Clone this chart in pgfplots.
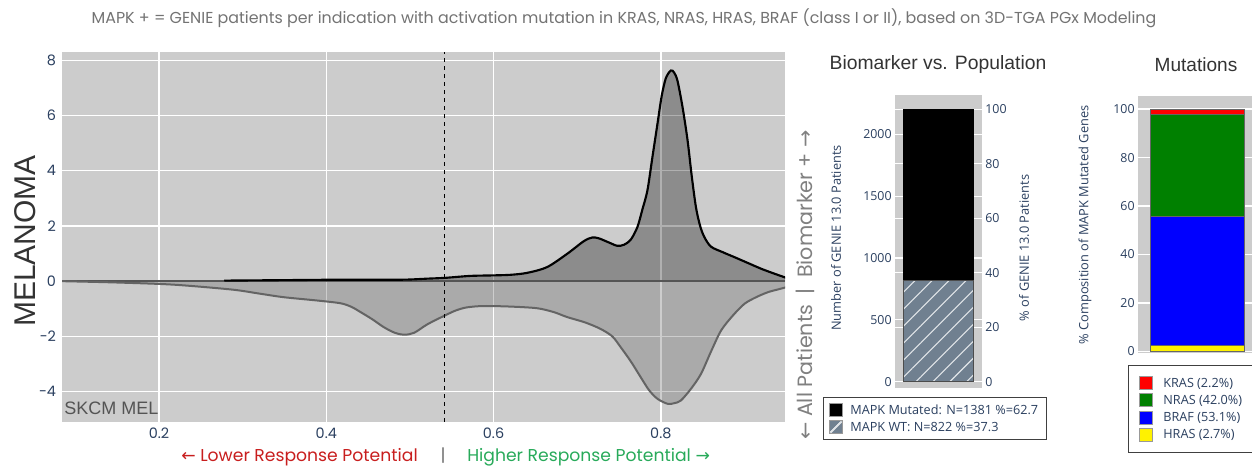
\documentclass[border=0pt]{standalone}
\usepackage{pgfplots}
\usepackage{pgfplotstable}
\pgfplotsset{compat=1.18}
\usetikzlibrary{patterns.meta}
\usepackage{fontspec}
\setmainfont{Open Sans}
\newfontfamily\pop{Poppins}
\newfontfamily\lib{Liberation Sans}
\newfontfamily\dv{DejaVu Sans}
\definecolor{bgc}{RGB}{204,204,204}
\definecolor{tickc}{RGB}{42,63,95}
\definecolor{slate}{RGB}{112,128,144}
\definecolor{lowc}{RGB}{100,100,100}
\definecolor{zeroc}{RGB}{85,85,85}
\definecolor{redt}{RGB}{200,30,30}
\definecolor{greent}{RGB}{40,170,90}
\definecolor{titc}{RGB}{115,115,115}
\definecolor{grn}{RGB}{0,128,0}

\pgfplotstableread{
x y
0.278 0.02
0.32 0.03
0.36 0.04
0.40 0.05
0.44 0.05
0.48 0.05
0.50 0.06
0.52 0.09
0.542 0.12
0.572 0.19
0.60 0.21
0.62 0.23
0.64 0.30
0.664 0.51
0.688 0.99
0.708 1.45
0.718 1.58
0.726 1.55
0.738 1.40
0.748 1.28
0.756 1.32
0.764 1.50
0.772 1.96
0.778 2.60
0.784 3.29
0.790 4.50
0.796 5.70
0.801 6.70
0.806 7.35
0.812 7.63
0.816 7.55
0.820 7.25
0.826 6.30
0.832 5.10
0.837 3.80
0.842 2.68
0.847 2.00
0.852 1.60
0.860 1.25
0.874 1.05
0.888 0.87
0.904 0.66
0.920 0.45
0.935 0.28
0.950 0.12
}\updata

\pgfplotstableread{
x y
0.084 0
0.14 -0.04
0.20 -0.10
0.233 -0.16
0.289 -0.31
0.32 -0.45
0.349 -0.58
0.389 -0.70
0.417 -0.80
0.43 -0.93
0.441 -1.12
0.455 -1.38
0.469 -1.67
0.482 -1.87
0.493 -1.94
0.505 -1.87
0.521 -1.56
0.542 -1.24
0.555 -1.06
0.568 -0.95
0.588 -0.90
0.62 -0.92
0.652 -0.98
0.672 -1.12
0.688 -1.30
0.71 -1.50
0.728 -1.73
0.742 -2.00
0.752 -2.39
0.764 -2.90
0.776 -3.48
0.786 -3.95
0.796 -4.26
0.808 -4.44
0.816 -4.42
0.824 -4.32
0.836 -3.90
0.848 -3.36
0.860 -2.55
0.872 -1.79
0.886 -1.25
0.900 -0.82
0.914 -0.58
0.928 -0.40
0.940 -0.30
0.950 -0.22
}\lodata

\begin{document}
\begin{tikzpicture}

% ---------------- main density axis
\begin{axis}[
 at={(46.5pt,33pt)}, anchor=south west, scale only axis,
 width=542.25pt, height=277.5pt,
 xmin=0.084, xmax=0.9485, ymin=-5.1, ymax=8.3,
 axis background/.style={fill=bgc},
 axis line style={draw=none}, major tick length=0pt,
 xtick={0.2,0.4,0.6,0.8}, xticklabels={0.2,0.4,0.6,0.8},
 ytick={-4,-2,0,2,4,6,8}, yticklabels={−4,−2,0,2,4,6,8},
 grid=major, grid style={white, line width=1.1pt},
 ticklabel style={font=\pop\fontsize{10.8pt}{12pt}\selectfont, text=tickc},
 yticklabel style={xshift=-1pt},
 xticklabel style={yshift=-1pt},
]
\addplot[fill=black, fill opacity=0.31, draw=none, smooth, tension=0.5] table {\updata} \closedcycle;
\addplot[fill=lowc, fill opacity=0.32, draw=none, smooth, tension=0.5] table {\lodata} \closedcycle;
\addplot[zeroc, line width=1.4pt] coordinates {(0.084,0) (0.9485,0)};
\addplot[lowc, smooth, tension=0.5, line width=1.5pt] table {\lodata};
\addplot[black, smooth, tension=0.5, line width=1.6pt] table {\updata};
\addplot[black, dashed, line width=0.5pt] coordinates {(0.541,-5.1) (0.541,8.3)};
\end{axis}

% ---------------- Biomarker vs population (left axis)
\begin{axis}[
 at={(671.25pt,58.5pt)}, anchor=south west, scale only axis,
 width=65.25pt, height=219.75pt,
 ybar stacked, bar width=0.805,
 xmin=-0.5, xmax=0.5, ymin=-51, ymax=2318,
 xtick=\empty,
 ytick={0,500,1000,1500,2000},
 extra y ticks={440.6,881.2,1321.8,1762.4,2203},
 extra y tick labels={},
 extra y tick style={grid=major},
 ymajorgrids, grid style={white, line width=0.9pt},
 axis background/.style={fill=bgc},
 axis line style={draw=none}, major tick length=0pt,
 /pgf/number format/1000 sep={},
 /pgf/number format/assume math mode=true,
 ticklabel style={font=\fontsize{9.3pt}{11pt}\selectfont, text=tickc},
 yticklabel style={xshift=1pt},
 legend style={at={(-0.828,-0.031)}, anchor=north west, draw=black!75, line width=0.8pt,
   fill=white, font=\fontsize{9.5pt}{11pt}\selectfont, text=tickc,
   nodes={inner ysep=1.2pt}, row sep=1.8pt, column sep=4pt,
   inner xsep=4pt, inner ysep=4pt, cells={anchor=west}},
 reverse legend,
]
\addplot[fill=slate, draw=black!70, line width=0.6pt,
  postaction={pattern={Lines[angle=45,distance=9pt,line width=0.8pt]}, pattern color=white!80!slate},
  legend image code/.code={\draw[fill=slate, draw=black!40, line width=0.4pt] (0pt,-4.5pt) rectangle (9.75pt,5.25pt); \draw[white!80!slate, line width=0.6pt] (1pt,-3.5pt) -- (8.75pt,4.25pt);}]
  coordinates {(0,822)};
\addlegendentry{MAPK WT: N=822 \%=37.3}
\addplot[fill=black, draw=black, line width=0.6pt,
  legend image code/.code={\draw[fill=black, draw=black!40, line width=0.4pt] (0pt,-4.5pt) rectangle (9.75pt,5.25pt);}]
  coordinates {(0,1381)};
\addlegendentry{MAPK Mutated: N=1381 \%=62.7}
\end{axis}

% ---------------- Biomarker vs population (right axis)
\begin{axis}[
 at={(671.25pt,58.5pt)}, anchor=south west, scale only axis,
 width=65.25pt, height=219.75pt,
 xmin=-0.5, xmax=0.5, ymin=-2.315, ymax=105.22,
 hide x axis, axis y line*=right,
 ytick={0,20,40,60,80,100},
 axis line style={draw=none}, major tick length=0pt,
 /pgf/number format/assume math mode=true,
 ticklabel style={font=\fontsize{9.3pt}{11pt}\selectfont, text=tickc},
 yticklabel style={xshift=-1pt},
]
\addplot[draw=none] coordinates {(0,0)};
\end{axis}

% ---------------- Mutations
\begin{axis}[
 at={(853.5pt,84.75pt)}, anchor=south west, scale only axis,
 width=88.5pt, height=192.75pt,
 ybar stacked, bar width=0.797,
 xmin=-0.5, xmax=0.5, ymin=-0.6, ymax=105.4,
 xtick=\empty,
 ytick={0,20,40,60,80,100},
 ymajorgrids, grid style={white, line width=0.9pt},
 axis background/.style={fill=bgc},
 axis line style={draw=none}, major tick length=0pt,
 /pgf/number format/assume math mode=true,
 ticklabel style={font=\fontsize{9.3pt}{11pt}\selectfont, text=tickc},
 yticklabel style={xshift=1pt},
 legend style={at={(-0.085,-0.047)}, anchor=north west, draw=black!75, line width=0.8pt,
   fill=white, font=\fontsize{9.5pt}{11pt}\selectfont, text=tickc,
   nodes={inner ysep=1.2pt}, row sep=2pt, column sep=6pt,
   inner xsep=8pt, inner ysep=8pt, cells={anchor=west}},
 reverse legend,
 legend image code/.code={\draw[#1, draw=black!40, line width=0.4pt] (0pt,-4.5pt) rectangle (9.75pt,5.25pt);},
]
\addplot[fill=yellow, draw=black!60, line width=0.6pt] coordinates {(0,2.7)};
\addlegendentry{HRAS (2.7\%)}
\addplot[fill=blue, draw=black!60, line width=0.6pt] coordinates {(0,53.1)};
\addlegendentry{BRAF (53.1\%)}
\addplot[fill=grn, draw=black!60, line width=0.6pt] coordinates {(0,42.0)};
\addlegendentry{NRAS (42.0\%)}
\addplot[fill=red, draw=black!60, line width=0.6pt] coordinates {(0,2.2)};
\addlegendentry{KRAS (2.2\%)}
\end{axis}

% ---------------- texts (pixel coordinates, y from top)
\begin{scope}[x=0.75pt, y=-0.75pt, shift={(0pt,349.5pt)}]
\node[text=titc, font=\pop\fontsize{11.9pt}{13pt}\selectfont] at (624,18)
 {MAPK + = GENIE patients per indication with activation mutation in KRAS, NRAS, HRAS, BRAF (class I or II), based on 3D-TGA PGx Modeling};
\node[rotate=90, text=black!80, font=\lib\fontsize{22.5pt}{26pt}\selectfont] at (25,241) {MELANOMA};
\node[anchor=base west, inner sep=0pt, text=black!67, font=\lib\fontsize{13.5pt}{15pt}\selectfont] at (64,415) {SKCM MEL};
\node[text=redt, inner sep=0pt, font=\pop\fontsize{12.9pt}{14pt}\selectfont, anchor=east] at (418,457) {{\dv ←} Lower Response Potential};
\node[text=black!55, inner sep=0pt, font=\pop\fontsize{12.9pt}{14pt}\selectfont] at (443,456) {|};
\node[text=greent, inner sep=0pt, font=\pop\fontsize{12.9pt}{14pt}\selectfont, anchor=west] at (467,457) {Higher Response Potential {\dv →}};
\node[rotate=90, text=black!50, font=\pop\fontsize{15.5pt}{17pt}\selectfont] at (805,285) {{\dv ←} All Patients\enspace|\enspace Biomarker + {\dv →}};
\node[text=black!80, font=\lib\fontsize{14.5pt}{16pt}\selectfont] at (938,65) {Biomarker vs. Population};
\node[text=black!80, font=\lib\fontsize{14.3pt}{16pt}\selectfont] at (1196,65) {Mutations};
\node[rotate=90, text=tickc, font=\fontsize{9.6pt}{11pt}\selectfont] at (836,238) {Number of GENIE 13.0 Patients};
\node[rotate=90, text=tickc, font=\fontsize{9.6pt}{11pt}\selectfont] at (1024,248) {\% of GENIE 13.0 Patients};
\node[rotate=90, text=tickc, font=\fontsize{9.6pt}{11pt}\selectfont] at (1085,225) {\% Composition of MAPK Mutated Genes};
\end{scope}
\pgfresetboundingbox
\path[use as bounding box] (0,0) rectangle (939pt,349.5pt);
\end{tikzpicture}
\end{document}
